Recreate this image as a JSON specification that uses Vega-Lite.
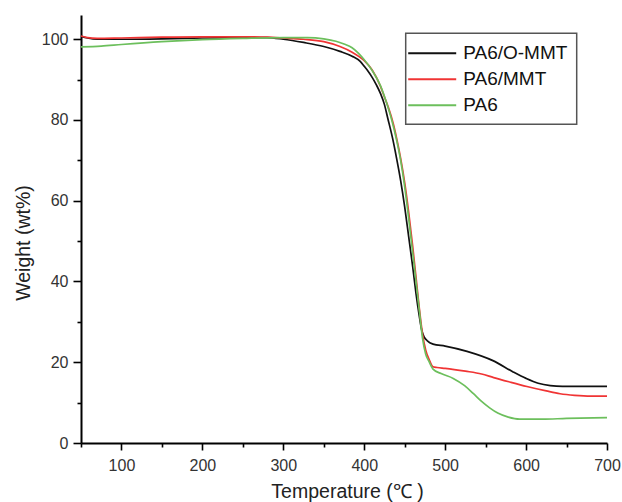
{
  "$schema": "https://vega.github.io/schema/vega-lite/v6.json",
  "width": 526,
  "height": 428,
  "autosize": {"type": "none"},
  "padding": {"left": 81, "top": 15, "right": 15, "bottom": 59},
  "background": "white",
  "config": {
    "view": {"stroke": null},
    "font": "Liberation Sans",
    "axis": {
      "domainColor": "#000",
      "domainWidth": 2,
      "tickColor": "#000",
      "tickWidth": 1.6,
      "grid": false,
      "labelFont": "Liberation Sans",
      "labelFontSize": 16,
      "labelColor": "#333",
      "titleFont": "Liberation Sans",
      "titleFontSize": 19.5,
      "titleFontWeight": "normal",
      "titleColor": "#222"
    }
  },
  "data": {
    "values": [
      {"s": "PA6/O-MMT", "t": 50, "w": 100.7},
      {"s": "PA6/O-MMT", "t": 58, "w": 100.3},
      {"s": "PA6/O-MMT", "t": 70, "w": 100.0},
      {"s": "PA6/O-MMT", "t": 100, "w": 100.0},
      {"s": "PA6/O-MMT", "t": 150, "w": 100.1},
      {"s": "PA6/O-MMT", "t": 200, "w": 100.3},
      {"s": "PA6/O-MMT", "t": 250, "w": 100.4},
      {"s": "PA6/O-MMT", "t": 280, "w": 100.4},
      {"s": "PA6/O-MMT", "t": 300, "w": 100.0},
      {"s": "PA6/O-MMT", "t": 325, "w": 99.2},
      {"s": "PA6/O-MMT", "t": 350, "w": 98.2},
      {"s": "PA6/O-MMT", "t": 370, "w": 97.0},
      {"s": "PA6/O-MMT", "t": 385, "w": 95.8},
      {"s": "PA6/O-MMT", "t": 395, "w": 94.5},
      {"s": "PA6/O-MMT", "t": 400, "w": 93.3},
      {"s": "PA6/O-MMT", "t": 405, "w": 92.0},
      {"s": "PA6/O-MMT", "t": 410, "w": 90.5},
      {"s": "PA6/O-MMT", "t": 415, "w": 88.7},
      {"s": "PA6/O-MMT", "t": 420, "w": 86.6},
      {"s": "PA6/O-MMT", "t": 425, "w": 83.8},
      {"s": "PA6/O-MMT", "t": 429, "w": 80.5},
      {"s": "PA6/O-MMT", "t": 435, "w": 75.5},
      {"s": "PA6/O-MMT", "t": 440, "w": 70.5},
      {"s": "PA6/O-MMT", "t": 445, "w": 65.0},
      {"s": "PA6/O-MMT", "t": 450, "w": 58.5},
      {"s": "PA6/O-MMT", "t": 455, "w": 51.0},
      {"s": "PA6/O-MMT", "t": 460, "w": 43.5},
      {"s": "PA6/O-MMT", "t": 464, "w": 37.0},
      {"s": "PA6/O-MMT", "t": 468, "w": 31.5},
      {"s": "PA6/O-MMT", "t": 471, "w": 28.0},
      {"s": "PA6/O-MMT", "t": 474, "w": 26.3},
      {"s": "PA6/O-MMT", "t": 478, "w": 25.3},
      {"s": "PA6/O-MMT", "t": 485, "w": 24.5},
      {"s": "PA6/O-MMT", "t": 500, "w": 24.0},
      {"s": "PA6/O-MMT", "t": 527, "w": 22.7},
      {"s": "PA6/O-MMT", "t": 559, "w": 20.4},
      {"s": "PA6/O-MMT", "t": 584, "w": 17.6},
      {"s": "PA6/O-MMT", "t": 600, "w": 16.0},
      {"s": "PA6/O-MMT", "t": 615, "w": 14.8},
      {"s": "PA6/O-MMT", "t": 630, "w": 14.2},
      {"s": "PA6/O-MMT", "t": 645, "w": 14.0},
      {"s": "PA6/O-MMT", "t": 700, "w": 14.0},
      {"s": "PA6/MMT", "t": 50, "w": 100.8},
      {"s": "PA6/MMT", "t": 58, "w": 100.4},
      {"s": "PA6/MMT", "t": 70, "w": 100.2},
      {"s": "PA6/MMT", "t": 100, "w": 100.3},
      {"s": "PA6/MMT", "t": 150, "w": 100.5},
      {"s": "PA6/MMT", "t": 200, "w": 100.6},
      {"s": "PA6/MMT", "t": 250, "w": 100.6},
      {"s": "PA6/MMT", "t": 280, "w": 100.5},
      {"s": "PA6/MMT", "t": 300, "w": 100.3},
      {"s": "PA6/MMT", "t": 325, "w": 100.0},
      {"s": "PA6/MMT", "t": 350, "w": 99.4},
      {"s": "PA6/MMT", "t": 370, "w": 98.2},
      {"s": "PA6/MMT", "t": 385, "w": 96.8},
      {"s": "PA6/MMT", "t": 395, "w": 95.5},
      {"s": "PA6/MMT", "t": 400, "w": 94.7},
      {"s": "PA6/MMT", "t": 410, "w": 92.3},
      {"s": "PA6/MMT", "t": 420, "w": 88.4},
      {"s": "PA6/MMT", "t": 425, "w": 85.7},
      {"s": "PA6/MMT", "t": 430, "w": 83.0},
      {"s": "PA6/MMT", "t": 436, "w": 79.0},
      {"s": "PA6/MMT", "t": 440, "w": 75.5},
      {"s": "PA6/MMT", "t": 445, "w": 70.5},
      {"s": "PA6/MMT", "t": 450, "w": 64.5},
      {"s": "PA6/MMT", "t": 455, "w": 57.0},
      {"s": "PA6/MMT", "t": 460, "w": 48.5},
      {"s": "PA6/MMT", "t": 464, "w": 41.0},
      {"s": "PA6/MMT", "t": 468, "w": 33.5},
      {"s": "PA6/MMT", "t": 472, "w": 27.0},
      {"s": "PA6/MMT", "t": 476, "w": 23.0},
      {"s": "PA6/MMT", "t": 480, "w": 20.8},
      {"s": "PA6/MMT", "t": 485, "w": 18.9},
      {"s": "PA6/MMT", "t": 490, "w": 18.7},
      {"s": "PA6/MMT", "t": 500, "w": 18.5},
      {"s": "PA6/MMT", "t": 525, "w": 17.8},
      {"s": "PA6/MMT", "t": 545, "w": 17.1},
      {"s": "PA6/MMT", "t": 560, "w": 16.2},
      {"s": "PA6/MMT", "t": 580, "w": 15.1},
      {"s": "PA6/MMT", "t": 601, "w": 14.0},
      {"s": "PA6/MMT", "t": 625, "w": 12.9},
      {"s": "PA6/MMT", "t": 642, "w": 12.2},
      {"s": "PA6/MMT", "t": 660, "w": 11.8},
      {"s": "PA6/MMT", "t": 680, "w": 11.6},
      {"s": "PA6/MMT", "t": 700, "w": 11.6},
      {"s": "PA6", "t": 50, "w": 98.1},
      {"s": "PA6", "t": 75, "w": 98.3},
      {"s": "PA6", "t": 100, "w": 98.7},
      {"s": "PA6", "t": 150, "w": 99.4},
      {"s": "PA6", "t": 200, "w": 99.9},
      {"s": "PA6", "t": 250, "w": 100.2},
      {"s": "PA6", "t": 300, "w": 100.4},
      {"s": "PA6", "t": 330, "w": 100.4},
      {"s": "PA6", "t": 350, "w": 100.1},
      {"s": "PA6", "t": 365, "w": 99.5},
      {"s": "PA6", "t": 375, "w": 98.8},
      {"s": "PA6", "t": 385, "w": 97.9},
      {"s": "PA6", "t": 393, "w": 96.5},
      {"s": "PA6", "t": 400, "w": 94.9},
      {"s": "PA6", "t": 410, "w": 92.2},
      {"s": "PA6", "t": 420, "w": 88.5},
      {"s": "PA6", "t": 428, "w": 84.0},
      {"s": "PA6", "t": 434, "w": 80.0},
      {"s": "PA6", "t": 440, "w": 75.0},
      {"s": "PA6", "t": 445, "w": 70.0},
      {"s": "PA6", "t": 450, "w": 63.5},
      {"s": "PA6", "t": 455, "w": 55.5},
      {"s": "PA6", "t": 460, "w": 47.0},
      {"s": "PA6", "t": 464, "w": 40.0},
      {"s": "PA6", "t": 468, "w": 33.0},
      {"s": "PA6", "t": 472, "w": 26.0},
      {"s": "PA6", "t": 476, "w": 22.0},
      {"s": "PA6", "t": 480, "w": 20.2},
      {"s": "PA6", "t": 485, "w": 18.3},
      {"s": "PA6", "t": 495, "w": 17.2},
      {"s": "PA6", "t": 510, "w": 16.0},
      {"s": "PA6", "t": 524, "w": 14.2},
      {"s": "PA6", "t": 535, "w": 12.2},
      {"s": "PA6", "t": 545, "w": 10.3},
      {"s": "PA6", "t": 555, "w": 8.7},
      {"s": "PA6", "t": 565, "w": 7.4},
      {"s": "PA6", "t": 578, "w": 6.4},
      {"s": "PA6", "t": 592, "w": 5.9},
      {"s": "PA6", "t": 620, "w": 5.9},
      {"s": "PA6", "t": 650, "w": 6.1},
      {"s": "PA6", "t": 700, "w": 6.3}
    ]
  },
  "mark": {"type": "line", "strokeWidth": 1.7, "interpolate": "monotone"},
  "encoding": {
    "x": {
      "field": "t",
      "type": "quantitative",
      "scale": {"domain": [50, 700], "nice": false, "zero": false},
      "axis": {
        "title": "Temperature (℃ )",
        "values": [50, 100, 150, 200, 250, 300, 350, 400, 450, 500, 550, 600, 650, 700],
        "labelExpr": "datum.value % 100 === 0 ? datum.label : ''",
        "tickSize": {"condition": {"test": "datum.value % 100 === 0", "value": 7}, "value": 4},
        "labelPadding": 7,
        "labelFlush": false,
        "labelOverlap": false,
        "titleBaseline": "alphabetic",
        "titleY": 54,
        "titleX": 266
      }
    },
    "y": {
      "field": "w",
      "type": "quantitative",
      "scale": {"domain": [0, 106], "nice": false},
      "axis": {
        "title": "Weight (wt%)",
        "values": [0, 10, 20, 30, 40, 50, 60, 70, 80, 90, 100],
        "labelExpr": "datum.value % 20 === 0 ? datum.label : ''",
        "tickSize": {"condition": {"test": "datum.value % 20 === 0", "value": 8}, "value": 4},
        "labelPadding": 5,
        "labelOverlap": false,
        "labelFlush": false,
        "titleX": -48,
        "titleY": 227.5
      }
    },
    "color": {
      "field": "s",
      "type": "nominal",
      "scale": {
        "domain": ["PA6/O-MMT", "PA6/MMT", "PA6"],
        "range": ["#111111", "#f03434", "#6cbf5c"]
      },
      "legend": {
        "title": null,
        "orient": "none",
        "legendX": 324.7,
        "legendY": 18.3,
        "symbolType": "M-2.4,0H2.4",
        "symbolSize": 400,
        "symbolStrokeWidth": 2,
        "symbolOffset": 6.5,
        "labelFont": "Liberation Sans",
        "labelFontSize": 19,
        "labelColor": "#111",
        "labelOffset": 20,
        "labelExpr": "datum.label + '\u00a0\u00a0\u00a0\u00a0'",
        "rowPadding": 5,
        "padding": 9,
        "strokeColor": "#555",
        "encode": {"legend": {"update": {"strokeWidth": {"value": 1.5}}}}
      }
    }
  }
}
